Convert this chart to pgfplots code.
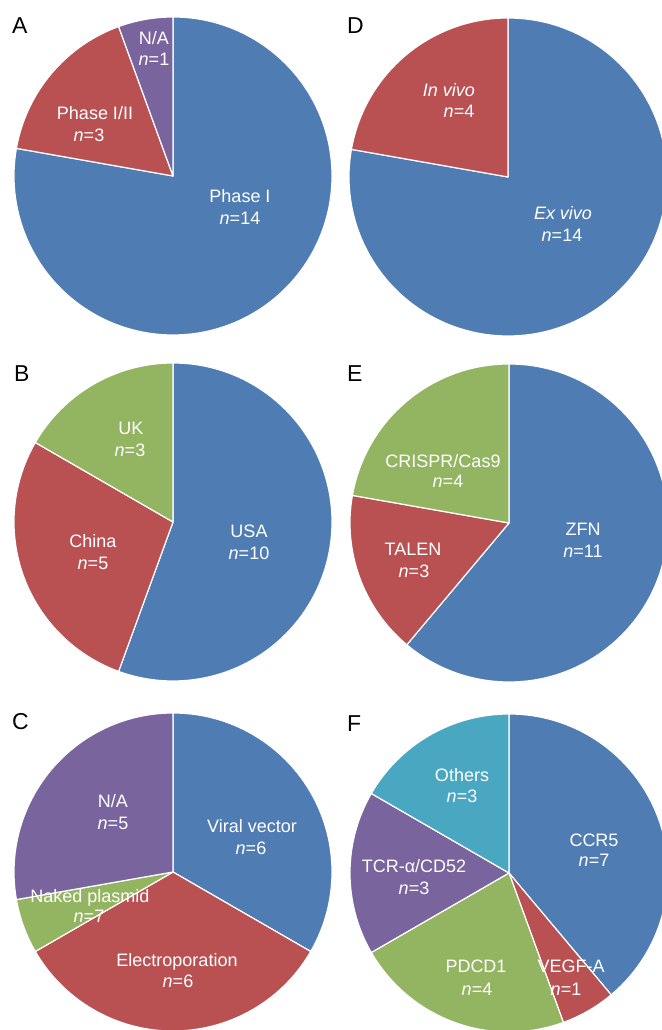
\documentclass[border=0pt]{standalone}
\usepackage{pgfplots}
\pgfplotsset{compat=1.18}
\usepackage{fontspec}
\setmainfont{Liberation Sans}

\definecolor{pblue}{HTML}{4F7DB3}
\definecolor{pred}{HTML}{B95153}
\definecolor{pgreen}{HTML}{93B562}
\definecolor{ppurple}{HTML}{7A649E}
\definecolor{pcyan}{HTML}{4AA7C2}

\newcommand\pieR{159}
% slices go clockwise from 12 o'clock; #1 = value/colour list
\newcommand\pie[1]{%
  \gdef\pietotal{0}%
  \foreach \pieval/\piecol in {#1} {\pgfmathsetmacro\pietmp{\pietotal+\pieval}\global\let\pietotal\pietmp}%
  \gdef\pieangle{90}%
  \foreach \pieval/\piecol in {#1} {%
    \pgfmathsetmacro\pieend{\pieangle-360*\pieval/\pietotal}%
    \edef\pietemp{\noexpand\fill[\piecol,draw=white,line width=1.2pt,line join=round]
      (axis cs:0,0) -- (axis cs:{\pieR*cos(\pieangle)},{\pieR*sin(\pieangle)})
      arc[start angle=\pieangle,end angle=\pieend,radius=\pieR pt] -- cycle;}%
    \pietemp
    \global\let\pieangle\pieend
  }%
}

\pgfplotsset{pieaxis/.style={width=318pt,height=318pt,scale only axis,
  xmin=-159,xmax=159,ymin=-159,ymax=159,hide axis,clip=false,anchor=center}}
\tikzset{
  lbl/.style={text=white,font=\fontsize{18}{18}\selectfont,anchor=base,inner sep=0pt},
  panel/.style={font=\fontsize{23}{23}\selectfont,anchor=north west,inner sep=0pt}}

\begin{document}
\begin{tikzpicture}
% A
\begin{axis}[pieaxis,at={(173pt,854pt)}]
\pie{14/pblue,3/pred,1/ppurple}
\node[panel] at (axis cs:-161,159) {A};
\node[lbl] at (axis cs:-19,131) {N/A};
\node[lbl] at (axis cs:-19,110) {\textit{n}=1};
\node[lbl] at (axis cs:-78,56) {Phase I/II};
\node[lbl] at (axis cs:-84,34) {\textit{n}=3};
\node[lbl] at (axis cs:67,-27) {Phase I};
\node[lbl] at (axis cs:67,-49) {\textit{n}=14};
\end{axis}
% D
\begin{axis}[pieaxis,at={(508pt,853pt)}]
\pie{14/pblue,4/pred}
\node[panel] at (axis cs:-161,160) {D};
\node[lbl] at (axis cs:-59,80) {\textit{In vivo}};
\node[lbl] at (axis cs:-49,59) {\textit{n}=4};
\node[lbl] at (axis cs:55,-43) {\textit{Ex vivo}};
\node[lbl] at (axis cs:54,-65) {\textit{n}=14};
\end{axis}
% B
\begin{axis}[pieaxis,at={(173pt,508pt)}]
\pie{10/pblue,5/pred,3/pgreen}
\node[panel] at (axis cs:-159,157) {B};
\node[lbl] at (axis cs:-42,87) {UK};
\node[lbl] at (axis cs:-43,65) {\textit{n}=3};
\node[lbl] at (axis cs:-80,-26) {China};
\node[lbl] at (axis cs:-80,-48) {\textit{n}=5};
\node[lbl] at (axis cs:76,-16) {USA};
\node[lbl] at (axis cs:76,-38) {\textit{n}=10};
\end{axis}
% E
\begin{axis}[pieaxis,at={(509pt,507pt)}]
\pie{11/pblue,3/pred,4/pgreen}
\node[panel] at (axis cs:-162,158) {E};
\node[lbl] at (axis cs:-66,55) {CRISPR/Cas9};
\node[lbl] at (axis cs:-61,35) {\textit{n}=4};
\node[lbl] at (axis cs:-96,-33) {TALEN};
\node[lbl] at (axis cs:-95,-55) {\textit{n}=3};
\node[lbl] at (axis cs:74,-13) {ZFN};
\node[lbl] at (axis cs:74,-35) {\textit{n}=11};
\end{axis}
% C
\begin{axis}[pieaxis,at={(173pt,158pt)}]
\pie{6/pblue,6/pred,1/pgreen,5/ppurple}
\node[panel] at (axis cs:-161,159) {C};
\node[lbl] at (axis cs:-60,64) {N/A};
\node[lbl] at (axis cs:-60,42) {\textit{n}=5};
\node[lbl] at (axis cs:79,39) {Viral vector};
\node[lbl] at (axis cs:78,17) {\textit{n}=6};
\node[lbl] at (axis cs:-83,-31) {Naked plasmid};
\node[lbl] at (axis cs:-84,-51) {\textit{n}=7};
\node[lbl] at (axis cs:4,-95) {Electroporation};
\node[lbl] at (axis cs:5,-116) {\textit{n}=6};
\end{axis}
% F
\begin{axis}[pieaxis,at={(509pt,157pt)}]
\pie{7/pblue,1/pred,4/pgreen,3/ppurple,3/pcyan}
\node[panel] at (axis cs:-162,158) {F};
\node[lbl] at (axis cs:-47,91) {Others};
\node[lbl] at (axis cs:-47,70) {\textit{n}=3};
\node[lbl] at (axis cs:85,26) {CCR5};
\node[lbl] at (axis cs:85,6) {\textit{n}=7};
\node[lbl] at (axis cs:-95,0) {TCR-α/CD52};
\node[lbl] at (axis cs:-95,-22) {\textit{n}=3};
\node[lbl] at (axis cs:-33,-100) {PDCD1};
\node[lbl] at (axis cs:-32,-122) {\textit{n}=4};
\node[lbl] at (axis cs:62,-100) {VEGF-A};
\node[lbl] at (axis cs:57,-122) {\textit{n}=1};
\end{axis}
\pgfresetboundingbox
\path[use as bounding box] (0,0) rectangle (661pt,1030pt);
\end{tikzpicture}
\end{document}
